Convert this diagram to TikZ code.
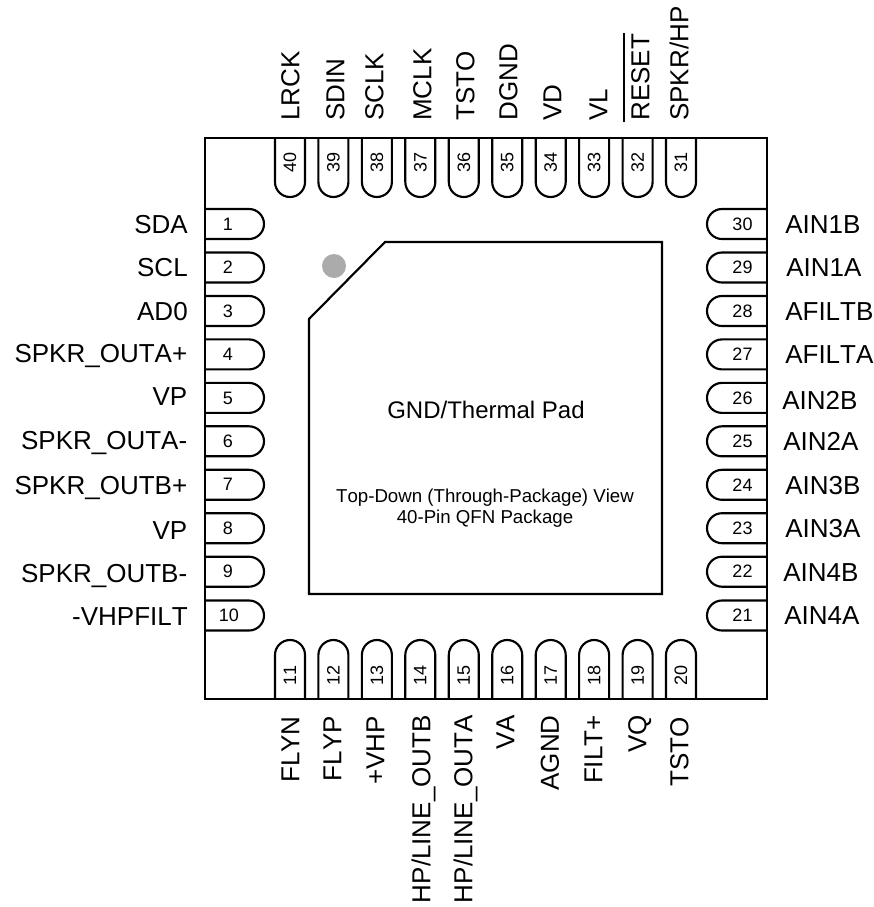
\documentclass[tikz,border=0pt]{standalone}
\usepackage{fontspec}
\setmainfont[Kerning=Off]{Liberation Sans}

\begin{document}
\begin{tikzpicture}[x=0.75pt,y=-0.75pt,
  outline/.style={draw=black,line width=1.6pt},
  lead/.style={outline,rounded corners=11.25pt},
  num/.style={font=\fontsize{13.5}{16}\selectfont,inner sep=0pt},
  sig/.style={font=\fontsize{19.5}{23}\selectfont,inner sep=0pt,text height=14pt,text depth=0pt},
  padtext/.style={font=\fontsize{14}{17}\selectfont,inner sep=0pt}]
\useasboundingbox (0,0) rectangle (874,907);

% rows of the side pins
\def\ya{224}
\def\yb{267.5}
\def\yc{311}
\def\yd{354.4}
\def\ye{397.9}
\def\yf{441.3}
\def\yg{484.8}
\def\yh{528.2}
\def\yi{571.7}
\def\yj{615.5}

% columns of the top and bottom pins
\def\xa{290}
\def\xb{333.4}
\def\xc{376.9}
\def\xd{420.3}
\def\xe{463.8}
\def\xf{507.2}
\def\xg{550.7}
\def\xh{594.1}
\def\xi{637.6}
\def\xj{681}

\def\lpin#1{\path[lead] (205,#1-15) -- (264,#1-15) -- (264,#1+15) -- (205,#1+15);}
\def\rpin#1{\path[lead] (767,#1-15) -- (707,#1-15) -- (707,#1+15) -- (767,#1+15);}
\def\tpin#1{\path[lead] (#1-15,138) -- (#1-15,197) -- (#1+15,197) -- (#1+15,138);}
\def\bpin#1{\path[lead] (#1-15,699) -- (#1-15,640) -- (#1+15,640) -- (#1+15,699);}

\lpin{\ya} \lpin{\yb} \lpin{\yc} \lpin{\yd} \lpin{\ye}
\lpin{\yf} \lpin{\yg} \lpin{\yh} \lpin{\yi} \lpin{\yj}
\rpin{\ya} \rpin{\yb} \rpin{\yc} \rpin{\yd} \rpin{\ye}
\rpin{\yf} \rpin{\yg} \rpin{\yh} \rpin{\yi} \rpin{\yj}
\tpin{\xa} \tpin{\xb} \tpin{\xc} \tpin{\xd} \tpin{\xe}
\tpin{\xf} \tpin{\xg} \tpin{\xh} \tpin{\xi} \tpin{\xj}
\bpin{\xa} \bpin{\xb} \bpin{\xc} \bpin{\xd} \bpin{\xe}
\bpin{\xf} \bpin{\xg} \bpin{\xh} \bpin{\xi} \bpin{\xj}

\draw[outline] (205,138) rectangle (767,699);
\draw[outline] (385,242) -- (662,242) -- (662,594) -- (309,594) -- (309,319) -- cycle;
\node[circle,fill=black!33,minimum size=18pt,inner sep=0pt] (dot) at (334,266) {};

\node[font=\fontsize{18}{22}\selectfont,inner sep=0pt] (pad) at (486,410) {GND/Thermal Pad};
\node[padtext] (view) at (485,498) {Top-Down (Through-Package) View};
\node[padtext] (pkg) at (485,519) {40-Pin QFN Package};

% left side
\node[num] (n1) at (228,\ya) {1};
\node[num] (n2) at (228,\yb) {2};
\node[num] (n3) at (228,\yc) {3};
\node[num] (n4) at (228,\yd) {4};
\node[num] (n5) at (228,\ye) {5};
\node[num] (n6) at (228,\yf) {6};
\node[num] (n7) at (228,\yg) {7};
\node[num] (n8) at (228,\yh) {8};
\node[num] (n9) at (228,\yi) {9};
\node[num] (n10) at (229,\yj) {10};

\node[sig,anchor=east] (sda) at (188,\ya) {SDA};
\node[sig,anchor=east] (scl) at (188,\yb) {SCL};
\node[sig,anchor=east] (ad) at (188,\yc) {AD0};
\node[sig,anchor=east] (spa) at (187.5,353.5) {SPKR\_OUTA+};
\node[sig,anchor=east] (vpa) at (187.5,396.5) {VP};
\node[sig,anchor=east] (sma) at (187.5,440) {SPKR\_OUTA-};
\node[sig,anchor=east] (spb) at (187.5,485.5) {SPKR\_OUTB+};
\node[sig,anchor=east] (vpb) at (187.5,530) {VP};
\node[sig,anchor=east] (smb) at (187.5,573) {SPKR\_OUTB-};
\node[sig,anchor=east] (vhp) at (188,616) {-VHPFILT};

% right side
\node[num] (n30) at (742.5,\ya) {30};
\node[num] (n29) at (742.5,\yb) {29};
\node[num] (n28) at (742.5,\yc) {28};
\node[num] (n27) at (742.5,\yd) {27};
\node[num] (n26) at (742.5,\ye) {26};
\node[num] (n25) at (742.5,\yf) {25};
\node[num] (n24) at (742.5,\yg) {24};
\node[num] (n23) at (742.5,\yh) {23};
\node[num] (n22) at (742.5,\yi) {22};
\node[num] (n21) at (742.5,\yj) {21};

\node[sig,anchor=west] (ainob) at (785,\ya) {AIN1B};
\node[sig,anchor=west] (ainoa) at (786,\yb) {AIN1A};
\node[sig,anchor=west] (afb) at (785,\yc) {AFILTB};
\node[sig,anchor=west] (afa) at (785,\yd) {AFILTA};
\node[sig,anchor=west] (aintb) at (782,\ye+2) {AIN2B};
\node[sig,anchor=west] (ainta) at (783,\yf) {AIN2A};
\node[sig,anchor=west] (ainhb) at (785,\yg) {AIN3B};
\node[sig,anchor=west] (ainha) at (785,\yh) {AIN3A};
\node[sig,anchor=west] (ainfb) at (783,\yi) {AIN4B};
\node[sig,anchor=west] (ainfa) at (784,\yj) {AIN4A};

% top side
\node[num,rotate=90] (n40) at (\xa,162) {40};
\node[num,rotate=90] (n39) at (\xb,162) {39};
\node[num,rotate=90] (n38) at (\xc,162) {38};
\node[num,rotate=90] (n37) at (\xd,162) {37};
\node[num,rotate=90] (n36) at (\xe,162) {36};
\node[num,rotate=90] (n35) at (\xf,162) {35};
\node[num,rotate=90] (n34) at (\xg,162) {34};
\node[num,rotate=90] (n33) at (\xh,162) {33};
\node[num,rotate=90] (n32) at (\xi,162) {32};
\node[num,rotate=90] (n31) at (\xj,162) {31};

\node[sig,rotate=90,anchor=west] (lrck) at (290,121) {LRCK};
\node[sig,rotate=90,anchor=west] (sdin) at (335,121) {SDIN};
\node[sig,rotate=90,anchor=west] (sclk) at (374,121) {SCLK};
\node[sig,rotate=90,anchor=west] (mclk) at (422,121) {MCLK};
\node[sig,rotate=90,anchor=west] (tsta) at (465,121) {TSTO};
\node[sig,rotate=90,anchor=west] (dgnd) at (508,121) {DGND};
\node[sig,rotate=90,anchor=west] (vd) at (552,121) {VD};
\node[sig,rotate=90,anchor=west] (vl) at (598,121) {VL};
\node[sig,rotate=90,anchor=west] (rst) at (640,121) {RESET};
\node[sig,rotate=90,anchor=west] (spkr) at (679,121) {SPKR/HP};
\coordinate (rsta) at (623.5,121.5);
\coordinate (rstb) at (623.5,33);
\draw[line width=1.5pt] (rsta) -- (rstb);

% bottom side
\node[num,rotate=90] (n11) at (\xa,675) {11};
\node[num,rotate=90] (n12) at (\xb,675) {12};
\node[num,rotate=90] (n13) at (\xc,675) {13};
\node[num,rotate=90] (n14) at (\xd,675) {14};
\node[num,rotate=90] (n15) at (\xe,675) {15};
\node[num,rotate=90] (n16) at (\xf,675) {16};
\node[num,rotate=90] (n17) at (\xg,675) {17};
\node[num,rotate=90] (n18) at (\xh,675) {18};
\node[num,rotate=90] (n19) at (\xi,675) {19};
\node[num,rotate=90] (n20) at (\xj,675) {20};

\node[sig,rotate=90,anchor=east] (flyn) at (290,716) {FLYN};
\node[sig,rotate=90,anchor=east] (flyp) at (332,716) {FLYP};
\node[sig,rotate=90,anchor=east] (vhq) at (375,716) {+VHP};
\node[sig,rotate=90,anchor=east] (hpb) at (421,715) {HP/LINE\_OUTB};
\node[sig,rotate=90,anchor=east] (hpa) at (463,715) {HP/LINE\_OUTA};
\node[sig,rotate=90,anchor=east] (va) at (505,715) {VA};
\node[sig,rotate=90,anchor=east] (agnd) at (549.5,715) {AGND};
\node[sig,rotate=90,anchor=east] (filt) at (593,715) {FILT+};
\node[sig,rotate=90,anchor=east] (vq) at (637,715) {VQ};
\node[sig,rotate=90,anchor=east] (tstb) at (679,717) {TSTO};

\end{tikzpicture}
\end{document}
